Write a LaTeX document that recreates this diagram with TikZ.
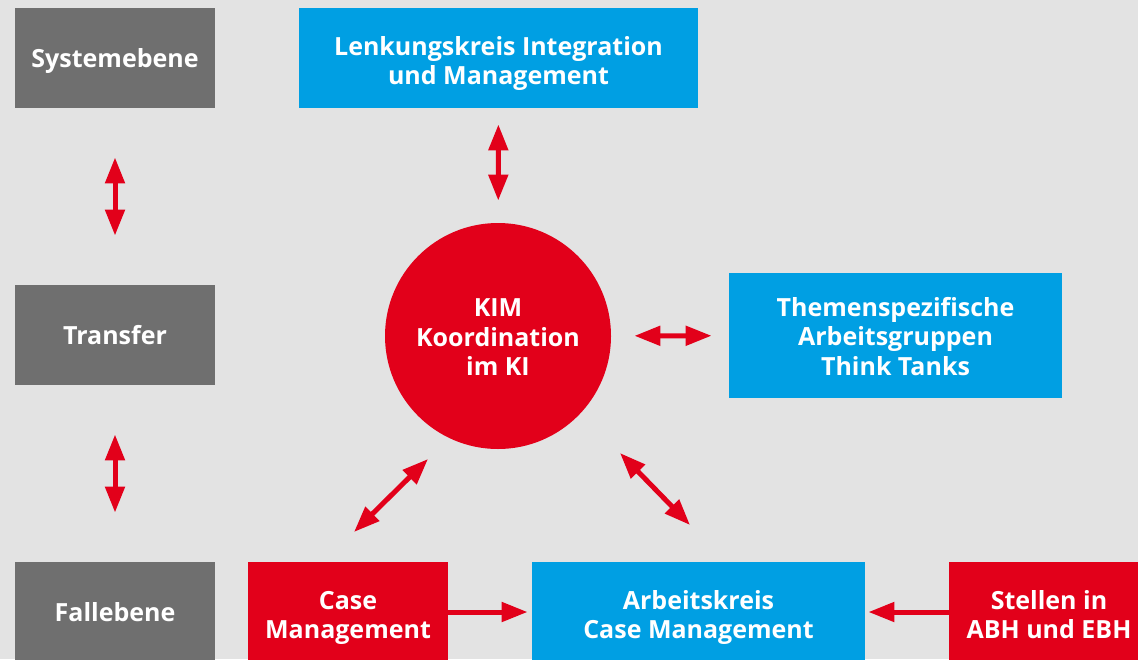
\documentclass[tikz,border=0pt]{standalone}
\usepackage{fontspec}
\setmainfont{Open Sans}
\usetikzlibrary{arrows.meta}
\definecolor{kibg}{HTML}{E3E3E3}
\definecolor{kigray}{HTML}{6F6F6F}
\definecolor{kiblue}{HTML}{009FE3}
\definecolor{kired}{HTML}{E2001A}
\tikzset{
  box/.style={minimum width=100pt,minimum height=50pt,inner sep=0pt,text=white,align=center,
    font=\bfseries\fontsize{12.5}{14.7}\selectfont,text height=9pt,text depth=0pt},
  two/.style={text height=26.7pt},
  three/.style={text height=39.5pt},
  tip/.tip={Triangle[length=13pt,width=9.5pt]},
  arr/.style={draw=kired,line width=2.5pt,tip-tip},
  arrone/.style={draw=kired,line width=2.5pt,-tip}
}
\begin{document}
\begin{tikzpicture}[x=0.5pt,y=-0.5pt]
\useasboundingbox[fill=kibg](0,0)rectangle(1138,659);
% levels on the left
\foreach \n/\y/\t in {sys/58/Systemebene,tra/335/Transfer,fall/612/Fallebene}
  \node[box,fill=kigray](\n)at(115,\y){\t};
\node[box,two,fill=kiblue,minimum width=199.5pt](lenk)at(498.5,58){Lenkungskreis Integration\\und Management};
\node[box,three,circle,fill=kired,minimum size=113pt](kim)at(498,336){KIM\\Koordination\\im KI};
\node[box,three,fill=kiblue,minimum width=166.5pt,minimum height=62.5pt](them)at(895.5,335.5){Themenspezifische\\Arbeitsgruppen\\Think Tanks};
\node[box,two,fill=kired](case)at(348,612){Case\\Management};
\node[box,two,fill=kiblue,minimum width=166.5pt](ak)at(698.5,612){Arbeitskreis\\Case Management};
\node[box,two,fill=kired](stel)at(1049,612){Stellen in\\ABH und EBH};
% arrows
\foreach \a/\b in {sys/tra,tra/fall}
  \draw[arr,shorten <=24.5pt,shorten >=24.5pt](\a)--(\b);
\draw[arr,shorten <=8pt,shorten >=11pt](lenk)--(kim);
\draw[arr,shorten <=11.5pt,shorten >=8.5pt](kim)--(them);
\draw[arr]([shift={(-70,123)}]kim.center)--([shift={(-144,196)}]kim.center);
\draw[arr]([shift={(122,117)}]kim.center)--([shift={(192,189)}]kim.center);
\draw[arrone,shorten >=2pt](case)--(ak);
\draw[arrone,shorten >=1.5pt](stel)--(ak);
\end{tikzpicture}
\end{document}
